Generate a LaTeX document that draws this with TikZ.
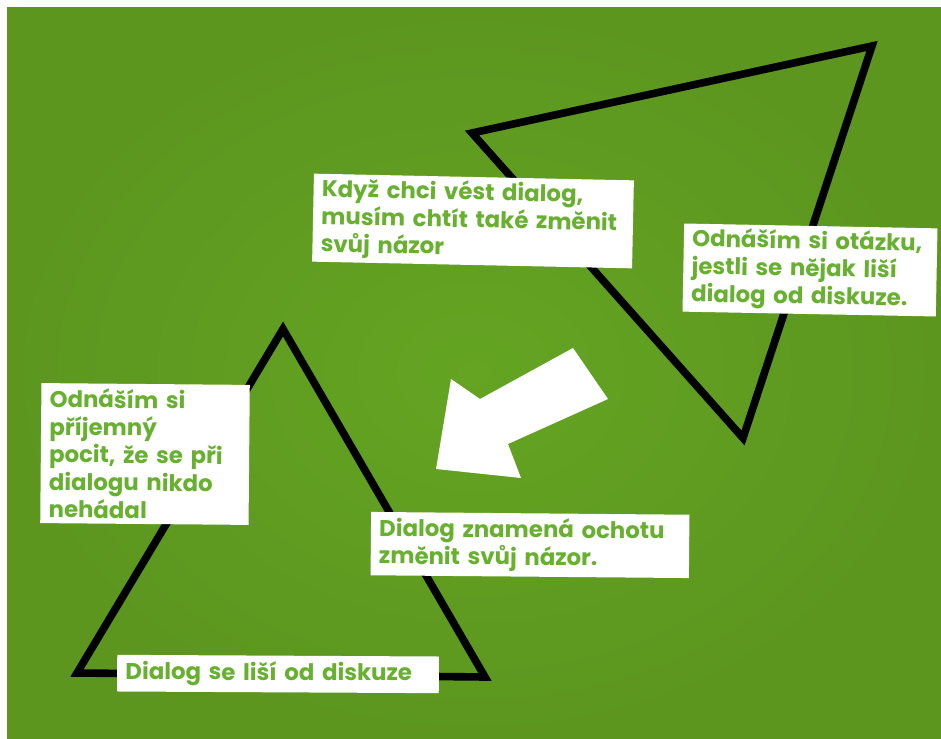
\documentclass[tikz,border=0pt]{standalone}
\usepackage{fontspec}
\setmainfont{Poppins}
\usepackage{tikz}
\usetikzlibrary{calc}
\usepackage{xcolor}
\definecolor{board}{RGB}{100,164,34}
\definecolor{boardedge}{RGB}{92,150,31}
\definecolor{txtgreen}{RGB}{104,176,48}
\tikzset{
note/.style={fill=white,
  text=txtgreen,
    font=\fontsize{19.5}{23.5}\selectfont\bfseries,
    inner xsep=0.25cm,
    align=left},
tri/.style={draw=black,
  line width=6.5pt,
  line join=miter},
}

\begin{document}
\begin{tikzpicture}[x=0.03cm,y=-0.03cm]

  % board
  \useasboundingbox (0,0) rectangle (941,739);
  \shade [inner color=board, outer color=boardedge] (7,8) rectangle (941,739);

  % Triangles
  \draw [tri] (472,133) -- (872,46) -- (743,438) -- cycle;
  \draw [tri] (283,329) -- (485,677) -- (77,673) -- cycle;

  % big arrow
  \fill [white] (573,348) -- (608,399) -- (508,444) -- (521,478) -- (436,469) -- (451,379) -- (480,399) -- cycle;

  % Nodes
  \node [note, rotate=-1.2, text width=9.1cm, minimum height=2.6cm] (vest) at (473,221)
    {Když chci vést dialog,\\musím chtít také změnit\\svůj názor};
  \node [note, rotate=-1.1, text width=7.1cm, minimum height=2.6cm] (otazka) at (810,270)
    {Odnáším si otázku,\\jestli se nějak liší\\dialog od diskuze.};
  \node [note, rotate=-0.5, text width=5.75cm, minimum height=4.2cm] (pocit) at (145,454)
    {Odnáším si\\příjemný\\pocit, že se při\\dialogu nikdo\\nehádal};
  \node [note, rotate=-0.5, text width=9.05cm, minimum height=1.9cm] (ochota) at (530,545)
    {Dialog znamená ochotu\\změnit svůj názor.};
  \node [note, rotate=-0.3, text width=9.15cm, minimum height=1.1cm] (lisi) at (278,674)
    {Dialog se liší od diskuze};
\end{tikzpicture}
\end{document}
